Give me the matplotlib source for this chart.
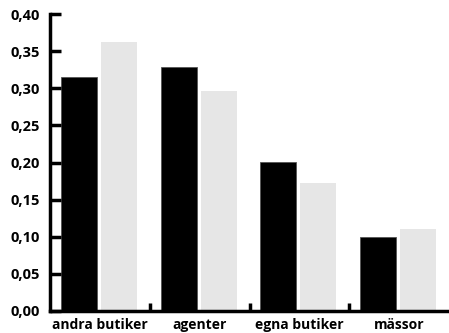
import numpy as np
import matplotlib
matplotlib.use("Agg")
import matplotlib.pyplot as plt
from matplotlib.ticker import FuncFormatter, FixedLocator

categories = ["andra butiker", "agenter", "egna butiker", "mässor"]
black_vals = [0.315, 0.328, 0.201, 0.100]
gray_vals = [0.362, 0.296, 0.172, 0.110]

plt.rcParams['font.family'] = ['Open Sans', 'DejaVu Sans']

fig = plt.figure(figsize=(4.49, 3.33), dpi=100)
ax = fig.add_axes([50/449, 22/333, 399/449, 297/333])

x = np.arange(len(categories))
ax.bar(x - 0.21, black_vals, width=0.36, color='black', edgecolor='#555555', linewidth=0.6)
ax.bar(x + 0.19, gray_vals, width=0.36, color='#e6e6e6')

ax.set_xlim(-0.5, 3.5)
ax.set_ylim(0, 0.40)
ax.set_yticks(np.arange(0, 0.401, 0.05))
ax.yaxis.set_major_formatter(FuncFormatter(lambda v, p: f"{v:.2f}".replace('.', ',')))

ax.set_xticks(x)
ax.set_xticklabels(categories)
ax.xaxis.set_minor_locator(FixedLocator([0.5, 1.5, 2.5]))
ax.tick_params(axis='x', which='major', length=0, pad=5, labelsize=10)
ax.tick_params(axis='x', which='minor', direction='in', length=6, width=2.5)
ax.tick_params(axis='y', direction='in', length=8, width=2.5, pad=7, labelsize=10.5)
for lab in ax.get_xticklabels() + ax.get_yticklabels():
    lab.set_fontweight('bold')

for s in ['top', 'right']:
    ax.spines[s].set_visible(False)
for s in ['left', 'bottom']:
    ax.spines[s].set_linewidth(2.5)

fig.savefig("out.png", dpi=100)
